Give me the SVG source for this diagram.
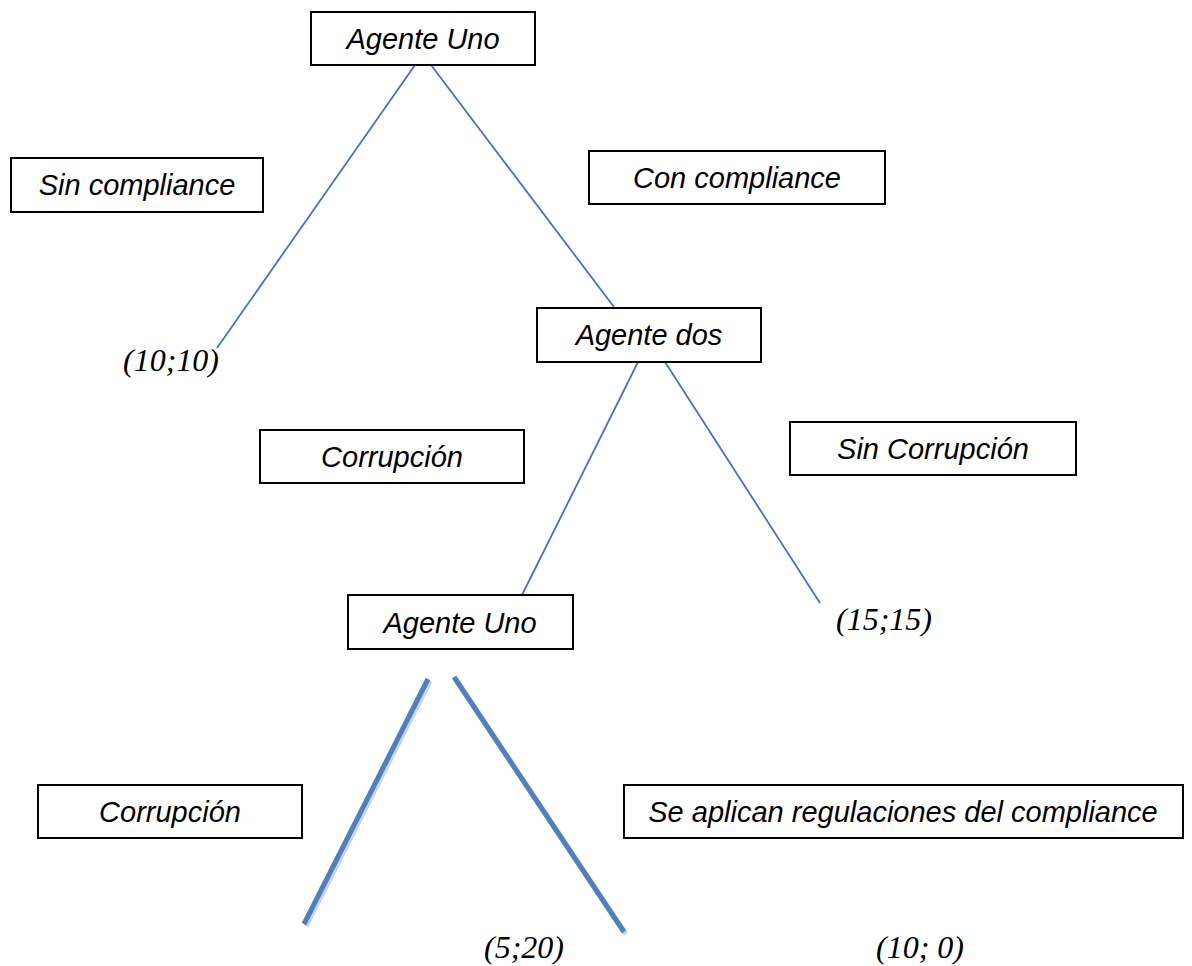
<svg xmlns="http://www.w3.org/2000/svg" width="1192" height="966" viewBox="0 0 1192 966">
<defs>
<style>
.box{fill:#fff;stroke:#000;stroke-width:2}
.bt{font-family:"Liberation Sans",Arial,sans-serif;font-style:italic;font-size:29px;fill:#000;text-anchor:middle}
.pay{font-family:"Liberation Serif","Times New Roman",serif;font-style:italic;font-size:32px;fill:#000}
.thin{stroke:#4472C4;stroke-width:1.8;fill:none}
.thick{stroke:#4F81BD;stroke-width:5;fill:none}
.shadow{stroke:#9aa8bc;stroke-width:5;fill:none;opacity:0.5}
</style>
</defs>
<rect width="1192" height="966" fill="#fff"/>
<g id="connectors">
<line class="thin" x1="415" y1="65" x2="217" y2="348"/>
<line class="thin" x1="431" y1="65" x2="614" y2="307"/>
<line class="thin" x1="638" y1="362" x2="522" y2="595"/>
<line class="thin" x1="665" y1="362" x2="820" y2="603"/>
<line class="shadow" x1="430" y1="681" x2="306" y2="926"/>
<line class="shadow" x1="456" y1="679" x2="626" y2="934"/>
<line class="thick" x1="428" y1="679" x2="304" y2="924"/>
<line class="thick" x1="454" y1="677" x2="624" y2="932"/>
</g>
<g id="agente-uno-1"><rect class="box" x="311" y="12" width="224" height="53"/><text class="bt" x="423" y="49">Agente Uno</text></g>
<g id="sin-compliance"><rect class="box" x="11" y="158" width="252" height="54"/><text class="bt" x="137" y="195">Sin compliance</text></g>
<g id="con-compliance"><rect class="box" x="589" y="151" width="296" height="53"/><text class="bt" x="737" y="188">Con compliance</text></g>
<g id="agente-dos"><rect class="box" x="537" y="308" width="224" height="54"/><text class="bt" x="649" y="345">Agente dos</text></g>
<g id="corrupcion-1"><rect class="box" x="260" y="430" width="264" height="53"/><text class="bt" x="392" y="467">Corrupción</text></g>
<g id="sin-corrupcion"><rect class="box" x="790" y="422" width="286" height="53"/><text class="bt" x="933" y="459">Sin Corrupción</text></g>
<g id="agente-uno-2"><rect class="box" x="348" y="595" width="225" height="54"/><text class="bt" x="460" y="633">Agente Uno</text></g>
<g id="corrupcion-2"><rect class="box" x="38" y="785" width="264" height="53"/><text class="bt" x="170" y="822">Corrupción</text></g>
<g id="se-aplican"><rect class="box" x="624" y="785" width="559" height="53"/><text class="bt" x="903" y="822">Se aplican regulaciones del compliance</text></g>
<g id="payoffs">
<text class="pay" x="123" y="371">(10;10)</text>
<text class="pay" x="836" y="630">(15;15)</text>
<text class="pay" x="484" y="958">(5;20)</text>
<text class="pay" x="876" y="958">(10; 0)</text>
</g>
</svg>
